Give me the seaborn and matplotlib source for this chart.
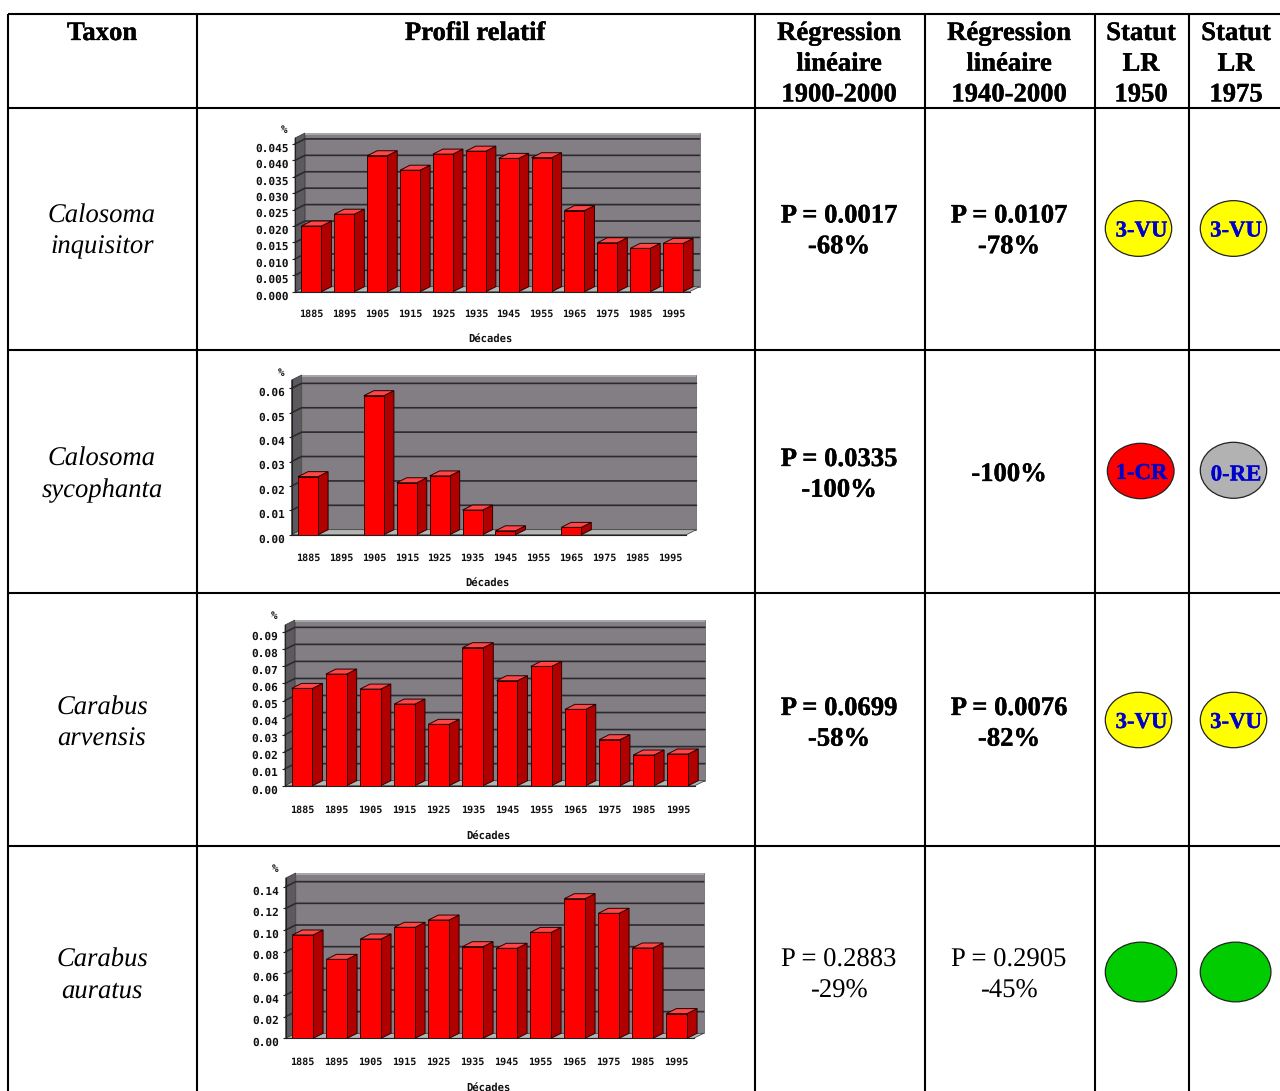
import matplotlib
matplotlib.use("Agg")
import matplotlib.pyplot as plt
import matplotlib.patheffects as pe
import pandas as pd
import seaborn as sns
from matplotlib.patches import Ellipse, Polygon, Rectangle
from matplotlib.transforms import ScaledTranslation

# Decades shared by every profile
decades = ["1885", "1895", "1905", "1915", "1925", "1935",
           "1945", "1955", "1965", "1975", "1985", "1995"]

# Relative abundance per decade, one list per taxon
inquisitor = [0.0200, 0.0236, 0.0414, 0.0370, 0.0419, 0.0428,
              0.0406, 0.0408, 0.0247, 0.0149, 0.0132, 0.0147]
sycophanta = [0.0238, 0.0, 0.0570, 0.0213, 0.0241, 0.0101,
              0.0016, 0.0, 0.0030, 0.0, 0.0, 0.0]
arvensis = [0.0571, 0.0655, 0.0567, 0.0479, 0.0360, 0.0810,
            0.0616, 0.0700, 0.0448, 0.0270, 0.0180, 0.0186]
auratus = [0.0954, 0.0729, 0.0917, 0.1025, 0.1092, 0.0846,
           0.0831, 0.0978, 0.1289, 0.1154, 0.0834, 0.0228]

ticks_inquisitor = [0.000, 0.005, 0.010, 0.015, 0.020, 0.025, 0.030, 0.035, 0.040, 0.045]
ticks_sycophanta = [0.00, 0.01, 0.02, 0.03, 0.04, 0.05, 0.06]
ticks_arvensis = [0.00, 0.01, 0.02, 0.03, 0.04, 0.05, 0.06, 0.07, 0.08, 0.09]
ticks_auratus = [0.00, 0.02, 0.04, 0.06, 0.08, 0.10, 0.12, 0.14]

# Table text
headers = ["Taxon", "Profil relatif", "Régression\nlinéaire\n1900-2000",
           "Régression\nlinéaire\n1940-2000", "Statut\nLR\n1950", "Statut\nLR\n1975"]
taxa = ["Calosoma\ninquisitor", "Calosoma\nsycophanta", "Carabus\narvensis", "Carabus\nauratus"]
reg_1900 = ["P = 0.0017\n-68%", "P = 0.0335\n-100%", "P = 0.0699\n-58%", "P = 0.2883\n-29%"]
reg_1940 = ["P = 0.0107\n-78%", "-100%", "P = 0.0076\n-82%", "P = 0.2905\n-45%"]
reg_bold = [True, True, True, False]
status_1950 = ["3-VU", "1-CR", "3-VU", ""]
status_1975 = ["3-VU", "0-RE", "3-VU", ""]
status_colours = {"3-VU": "#FFFF00", "1-CR": "#FF0000", "0-RE": "#B2B2B2", "": "#00CC00"}

W, H = 1280, 1091
SERIF = "Liberation Serif"
MONO = "DejaVu Sans Mono"

sns.set_style("white")
plt.rcParams["font.family"] = [SERIF, "DejaVu Sans"]
plt.rcParams["text.hinting"] = "no_hinting"

fig = plt.figure(figsize=(W / 100, H / 100), dpi=100, facecolor="white")

# Page-sized axes in pixel units carrying the table grid and its text
page = fig.add_axes([0, 0, 1, 1])
page.set_xlim(0, W)
page.set_ylim(H, 0)
page.axis("off")

col_lines = [7.5, 197, 755, 925, 1095, 1189]
row_lines = [14, 108, 350, 592.5, 846]
rule = dict(color="black", lw=1.5)
for x in col_lines:
    page.plot([x, x], [14, H], solid_capstyle="butt", **rule)
for y in row_lines:
    page.plot([7.5, W], [y, y], solid_capstyle="butt", **rule)

col_centres = [102, 475, 839, 1009, 1141, 1236]
TEXT_PT = 19.2
LINE_PX = 30.7
HEAVY = [pe.withStroke(linewidth=0.25, foreground="black")]


def stacked(x, baseline, text, **kw):
    """Write a multi-line string from its first baseline, one text per line."""
    for i, line in enumerate(text.split("\n")):
        t = page.text(x, baseline + i * LINE_PX, line, ha="center", va="baseline",
                      fontsize=TEXT_PT, color="black", **kw)
        if kw.get("fontweight") == "bold":
            t.set_path_effects(HEAVY)


for x, head in zip(col_centres, headers):
    stacked(x, 40, head, fontweight="bold")

row_baselines = [222.5, 466, 715, 967]
row_centres = [229, 472, 720, 972]
for i, base in enumerate(row_baselines):
    weight = "bold" if reg_bold[i] else "normal"
    stacked(col_centres[0], base, taxa[i], style="italic")
    stacked(col_centres[2], base, reg_1900[i], fontweight=weight)
    if "\n" in reg_1940[i]:
        stacked(col_centres[3], base, reg_1940[i], fontweight=weight)
    else:
        stacked(col_centres[3], row_centres[i] + 9, reg_1940[i], fontweight=weight)

# Red-list status badges: centre x, centre y, width, height for both columns
badges_1950 = [(1138.5, 228.5, 66.4, 55.7), (1140.7, 471, 66.7, 55.4),
               (1138.5, 720, 66.4, 55.4), (1141, 972, 71.4, 59.7)]
badges_1975 = [(1233.5, 228.5, 66.4, 55.7), (1233.5, 470.3, 66.4, 56),
               (1233.5, 720, 66.4, 55.4), (1235.6, 972, 70.7, 59.7)]
label_x = (1141.5, 1236)
label_y = [228.5, 471, 720, 972]
for i in range(4):
    for j, (status, badge) in enumerate(((status_1950[i], badges_1950[i]),
                                         (status_1975[i], badges_1975[i]))):
        cx, cy, bw, bh = badge
        page.add_patch(Ellipse((cx, cy), bw, bh, facecolor=status_colours[status],
                               edgecolor="#222222", lw=0.9, zorder=3))
        if status:
            page.text(label_x[j], label_y[i] + (1.5 if status == "0-RE" else 0), status,
                      ha="center", va="center_baseline", fontsize=16.4,
                      fontweight="bold", color="#0000CC", zorder=4,
                      path_effects=[pe.withStroke(linewidth=0.25, foreground="#0000CC")])

WALL = "#827E84"
SIDE_WALL = "#5C5A5E"
FLOOR = "#B4B4B4"
RIM = "#A8A6AA"
GRID = "#2C2A2E"
BAR = "#FF0000"
BAR_SIDE = "#B00000"
BAR_TOP = "#FF4545"
EDGE = "#2A0000"
DEPTH_X, DEPTH_Y = 10, 5


def profile(values, ticks, tick_fmt, x0, x1, floor_y, px_per_unit, wall_top,
            xtick_off, xlabel_pos, pct_pos):
    """Draw one pseudo-3D bar profile on axes placed by pixel box."""
    box_h = floor_y - wall_top
    ax = fig.add_axes([x0 / W, 1 - floor_y / H, (x1 - x0) / W, box_h / H])
    ax.set_facecolor("none")
    frame = pd.DataFrame({"decade": decades, "share": values})
    sns.barplot(data=frame, x="decade", y="share", color=BAR, saturation=1,
                width=0.61, edgecolor=EDGE, linewidth=0.7, ax=ax, zorder=5)
    ax.set_xlim(-0.5, 11.5)
    ymax = box_h / px_per_unit
    ax.set_ylim(0, ymax)
    ddx = DEPTH_X * 12 / (x1 - x0)
    ddy = DEPTH_Y / px_per_unit
    left, right = -0.5, 11.5

    # Back wall, side wall, floor and the light rim along the wall's top
    ax.add_patch(Rectangle((left + ddx, ddy), right - left, ymax, facecolor=WALL,
                           edgecolor="#444444", lw=0.4, zorder=1, clip_on=False))
    ax.add_patch(Polygon([(left, 0), (left + ddx, ddy), (left + ddx, ymax + ddy), (left, ymax)],
                         facecolor=SIDE_WALL, edgecolor="#333333", lw=0.5, zorder=1, clip_on=False))
    ax.add_patch(Polygon([(left, 0), (right, 0), (right + ddx, ddy), (left + ddx, ddy)],
                         facecolor=FLOOR, edgecolor="#333333", lw=0.5, zorder=2, clip_on=False))
    ax.add_patch(Rectangle((left + ddx, ymax + ddy - 2.2 / px_per_unit), right - left,
                           2.2 / px_per_unit, facecolor=RIM, edgecolor="none",
                           zorder=2, clip_on=False))
    for t in ticks[1:]:
        ax.plot([left, left + ddx, right + ddx], [t, t + ddy, t + ddy], color=GRID, lw=1.2,
                zorder=2, clip_on=False)

    # Side and top faces derived from each bar seaborn drew
    for bar in list(ax.patches):
        if not isinstance(bar, Rectangle) or bar.get_zorder() != 5:
            continue
        h = bar.get_height()
        if h <= 0:
            bar.set_visible(False)
            continue
        a = bar.get_x()
        b = a + bar.get_width()
        ax.add_patch(Polygon([(b, 0), (b + ddx, ddy), (b + ddx, h + ddy), (b, h)],
                             facecolor=BAR_SIDE, edgecolor=EDGE, lw=0.7, zorder=4, clip_on=False))
        ax.add_patch(Polygon([(a, h), (b, h), (b + ddx, h + ddy), (a + ddx, h + ddy)],
                             facecolor=BAR_TOP, edgecolor=EDGE, lw=0.7, zorder=4, clip_on=False))

    sns.despine(ax=ax)
    for side in ("left", "bottom"):
        ax.spines[side].set_color("#222222")
        ax.spines[side].set_linewidth(0.8)
        ax.spines[side].set_zorder(3)

    ax.set_yticks(ticks)
    ax.set_yticklabels([tick_fmt.format(t) for t in ticks], family=MONO, fontweight="bold",
                       fontsize=8.0, color="#111111")
    ax.tick_params(axis="y", length=2, width=0.8, pad=2.6, left=True, color="#222222")
    ax.tick_params(axis="x", length=0, pad=xtick_off * 0.72 - 3)
    ax.set_xticks(range(12))
    ax.set_xticklabels(decades, family=MONO, fontweight="bold", fontsize=7.3, color="#111111")
    drop = ScaledTranslation(0, -3.5 / 100, fig.dpi_scale_trans)
    for lab in ax.get_yticklabels():
        lab.set_transform(lab.get_transform() + drop)

    ax.set_xlabel("Décades", family=MONO, fontweight="bold", fontsize=7.6, color="#111111",
                  va="center", ha="center")
    ax.xaxis.set_label_coords((xlabel_pos[0] - x0) / (x1 - x0),
                              (floor_y - xlabel_pos[1]) / box_h)
    ax.set_ylabel("%", family=MONO, fontweight="bold", fontsize=7.8, rotation=0,
                  color="#111111", va="center", ha="center")
    ax.yaxis.set_label_coords((pct_pos[0] - x0) / (x1 - x0),
                              (floor_y - pct_pos[1]) / box_h)
    return ax


profile(inquisitor, ticks_inquisitor, "{:.3f}", 295, 689.5, 291.7, 3284, 138,
        22, (490.7, 339.3), (284, 129.7))
profile(sycophanta, ticks_sycophanta, "{:.2f}", 291.6, 686.4, 534.7, 2439, 380,
        22.6, (487.3, 583.3), (280.7, 372.7))
profile(arvensis, ticks_arvensis, "{:.2f}", 285, 694.9, 785.7, 1704, 625,
        23.3, (488, 835.7), (274, 616))
profile(auratus, ticks_auratus, "{:.2f}", 285.7, 693.7, 1038.3, 1083, 878,
        22.7, (488, 1087.7), (275, 869.3))

fig.savefig("out.png", dpi=100, facecolor="white")
